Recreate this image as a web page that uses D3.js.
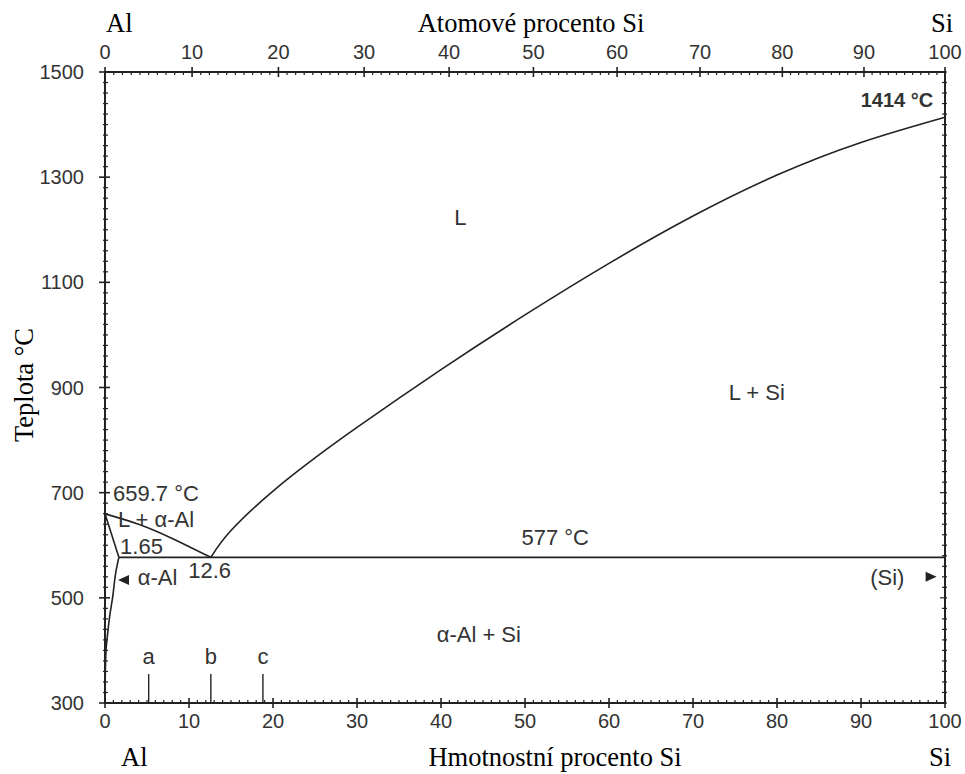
<!DOCTYPE html>
<html lang="cs">
<head>
<meta charset="utf-8">
<title>Al-Si</title>
<script src="https://cdn.jsdelivr.net/npm/d3@7"></script>
<style>
  body { margin: 0; background: #fff; }
  .tlab { font-family: "Liberation Sans", Arial, sans-serif; font-size: 20px; fill: #333; }
  .serif { font-family: "Liberation Serif", "Times New Roman", serif; font-size: 26.5px; fill: #000; }
  .phase { font-family: "Liberation Sans", Arial, sans-serif; font-size: 22px; fill: #333; }
  .curve { fill: none; stroke: #222; stroke-width: 1.6; }
  .frame { stroke: #222; stroke-width: 2; }
</style>
</head>
<body>
<div id="chart"></div>
<script>
// osy
var wtTicks = [0, 10, 20, 30, 40, 50, 60, 70, 80, 90, 100];
var atTicks = [0, 10, 20, 30, 40, 50, 60, 70, 80, 90, 100];
var tempTicks = [300, 500, 700, 900, 1100, 1300, 1500];

// krivky (hm. % Si, teplota)
var liquidusAl = [[0, 659.7], [4, 640], [8, 613], [12.6, 577]];
var solidus = [[0, 659.7], [1.65, 577]];
var solvus = [[1.65, 577], [1.3, 550], [0.9, 500], [0.6, 470], [0.3, 430], [0.12, 400], [0.03, 350], [0, 300]];
var liquidusSi = [[12.6, 577], [15, 628], [20, 703], [25, 766], [30, 824], [40, 934], [50, 1038],
                  [60, 1136], [70, 1226], [80, 1304], [90, 1366], [100, 1414]];
var eutectic = [[1.65, 577], [100, 577]];
var markers = [["a", 5.2], ["b", 12.6], ["c", 18.8]];
var markerTop = 355;

var width = 965, height = 774;
var x = d3.scaleLinear().domain([0, 100]).range([105, 945]);
var y = d3.scaleLinear().domain([300, 1500]).range([703, 72]);

// atomova -> hmotnostni procenta
function atToWt(a) {
  var si = a * 28.086, al = (100 - a) * 26.982;
  return 100 * si / (si + al);
}

var svg = d3.select("#chart").append("svg")
  .attr("width", width).attr("height", height);

function line(c) {
  return d3.line().x(function(d) { return x(d[0]); }).y(function(d) { return y(d[1]); }).curve(c || d3.curveLinear);
}

// ramecek
svg.append("rect")
  .attr("x", x(0)).attr("y", y(1500))
  .attr("width", x(100) - x(0)).attr("height", y(300) - y(1500))
  .attr("fill", "none").attr("class", "frame");

// drobne znacky
var g = svg.append("g").attr("stroke", "#222");
d3.range(0, 101, 1).forEach(function(v) {
  var major = v % 10 == 0;
  g.append("line").attr("x1", x(v)).attr("x2", x(v))
    .attr("y1", y(300) + (major ? 5 : 0)).attr("y2", y(300) - (major ? 5 : 3))
    .attr("stroke-width", major ? 1.6 : 1.2);
  var w = atToWt(v);
  g.append("line").attr("x1", x(w)).attr("x2", x(w))
    .attr("y1", y(1500) - (major ? 5 : 0)).attr("y2", y(1500) + (major ? 5 : 3))
    .attr("stroke-width", major ? 1.6 : 1.2);
});
d3.range(300, 1501, 20).forEach(function(v) {
  var major = (v - 300) % 200 == 0;
  g.append("line").attr("x1", x(0) - (major ? 6 : 2)).attr("x2", x(0) + (major ? 5 : 3))
    .attr("y1", y(v)).attr("y2", y(v)).attr("stroke-width", major ? 1.6 : 1.2);
  g.append("line").attr("x1", x(100) - (major ? 5 : 3)).attr("x2", x(100) + 2)
    .attr("y1", y(v)).attr("y2", y(v)).attr("stroke-width", 1.2);
});

// popisky os
svg.selectAll(".wt").data(wtTicks).enter().append("text")
  .attr("class", "tlab").attr("x", function(d) { return x(d); }).attr("y", 728)
  .attr("text-anchor", "middle").text(function(d) { return d; });
svg.selectAll(".at").data(atTicks).enter().append("text")
  .attr("class", "tlab").attr("x", function(d) { return x(atToWt(d)); }).attr("y", 59)
  .attr("text-anchor", "middle").text(function(d) { return d; });
svg.selectAll(".tt").data(tempTicks).enter().append("text")
  .attr("class", "tlab").attr("x", 84).attr("y", function(d) { return y(d) + 7; })
  .attr("text-anchor", "end").text(function(d) { return d; });

svg.append("text").attr("class", "serif").attr("x", 106).attr("y", 32).text("Al");
svg.append("text").attr("class", "serif").attr("x", 531).attr("y", 32).attr("text-anchor", "middle").text("Atomové procento Si");
svg.append("text").attr("class", "serif").attr("x", 953).attr("y", 32).attr("text-anchor", "end").text("Si");
svg.append("text").attr("class", "serif").attr("x", 121).attr("y", 766).text("Al");
svg.append("text").attr("class", "serif").attr("x", 555).attr("y", 766).attr("text-anchor", "middle").text("Hmotnostní procento Si");
svg.append("text").attr("class", "serif").attr("x", 951).attr("y", 766).attr("text-anchor", "end").text("Si");
svg.append("text").attr("class", "serif").attr("transform", "translate(33,385) rotate(-90)")
  .attr("text-anchor", "middle").text("Teplota °C");

// krivky
svg.append("path").datum(liquidusAl).attr("class", "curve").attr("d", line(d3.curveNatural));
svg.append("path").datum(solidus).attr("class", "curve").attr("d", line());
svg.append("path").datum(solvus).attr("class", "curve").attr("d", line(d3.curveMonotoneY));
svg.append("path").datum(liquidusSi).attr("class", "curve").attr("d", line(d3.curveNatural));
svg.append("path").datum(eutectic).attr("class", "curve").attr("d", line());

// znacky a, b, c
markers.forEach(function(m) {
  svg.append("line").attr("x1", x(m[1])).attr("x2", x(m[1]))
    .attr("y1", y(300)).attr("y2", y(markerTop)).attr("stroke", "#222").attr("stroke-width", 1.4);
  svg.append("text").attr("class", "phase").attr("x", x(m[1])).attr("y", y(markerTop) - 10)
    .attr("text-anchor", "middle").text(m[0]);
});

// popisky oblasti
function label(t, xv, yv, anchor, weight) {
  var el = svg.append("text").attr("class", "phase").attr("x", x(xv)).attr("y", y(yv))
    .attr("text-anchor", anchor || "start").text(t);
  if (weight) el.style("font-weight", weight);
  return el;
}
label("L", 42.3, 1209, "middle");
label("L + Si", 77.6, 876, "middle");
label("1414 °C", 98.6, 1433, "end", "bold").style("font-size", "20px");
label("659.7 °C", 0.95, 684);
label("L + α-Al", 1.55, 634);
label("1.65", 1.8, 583);
label("α-Al", 3.9, 524);
label("12.6", 9.9, 538);
label("577 °C", 53.6, 600, "middle");
label("(Si)", 91.1, 524);
label("α-Al + Si", 44.5, 416, "middle");

// sipky
function arrow(xv, yv, dir) {
  var px = x(xv), py = y(yv);
  svg.append("path")
    .attr("d", "M" + px + "," + py + "l" + (-dir * 11) + ",-5v10z")
    .attr("fill", "#222");
}
arrow(1.55, 534, -1);
arrow(99.0, 540, 1);
</script>
</body>
</html>
